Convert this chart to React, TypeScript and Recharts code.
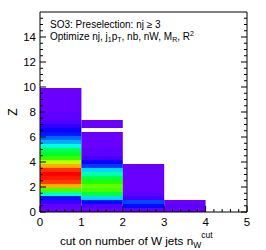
import React from 'react';
import { ComposedChart, XAxis, YAxis, ReferenceArea, Scatter } from 'recharts';

// 2D histogram: x = cut on number of W jets (bins of width 1), y = Z (bins of width 0.32)
const binWidth = 0.32;
const columnStarts = [0, 1, 2, 3];
// relative bin content (0 = lowest colour, 1 = highest), listed from the Z=0 bin upward; null = empty bin
const col0 = [0.02, 0.03, 0.06, 0.13, 0.4, 0.62, 0.85, 0.95, 0.98, 1.0, 0.96, 0.85, 0.72, 0.6, 0.52, 0.48,
  0.36, 0.26, 0.2, 0.13, 0.1, 0.07, 0.04, 0.03, 0.03, 0.02, 0.02, 0.02, 0.02, 0.02, 0.02];
const col1 = [0.02, 0.04, 0.12, 0.3, 0.5, 0.62, 0.64, 0.58, 0.5, 0.4, 0.3, 0.16, 0.1, 0.05, 0.03, 0.03,
  0.02, 0.02, 0.02, 0.02, null, 0.02, 0.02];
const col2 = [0.03, 0.12, 0.17, 0.05, 0.03, 0.02, 0.02, 0.02, 0.02, 0.02, 0.02, 0.02];
const col3 = [0.02, 0.03, 0.02];
const columns = [col0, col1, col2, col3];

const xMajorTicks = [0, 1, 2, 3, 4, 5];
const yMajorTicks = [0, 2, 4, 6, 8, 10, 12, 14];
const xTicks = Array.from({ length: 26 }, (_, i) => Math.round(i * 0.2 * 10) / 10);
const yTicks = Array.from({ length: 32 }, (_, i) => i * 0.5);

const FONT = "'Liberation Sans', Arial, Helvetica, sans-serif";

type Cell = { x1: number; x2: number; y1: number; y2: number; v: number };
const cells: Cell[] = [];
columns.forEach((vals, ci) => {
  vals.forEach((v, bi) => {
    if (v === null) return;
    cells.push({ x1: columnStarts[ci], x2: columnStarts[ci] + 1, y1: bi * binWidth, y2: (bi + 1) * binWidth, v });
  });
});

const colorOf = (v: number) => `hsl(${270 * (1 - v)}, 100%, 50%)`;

const isMajorX = (v: number) => xMajorTicks.some((t) => Math.abs(t - v) < 1e-6);
const isMajorY = (v: number) => yMajorTicks.some((t) => Math.abs(t - v) < 1e-6);

function makeTick(orient: 'bottom' | 'top' | 'left' | 'right', labels: boolean) {
  return (props: any) => {
    const { x, y, payload } = props;
    const v = payload.value;
    const major = orient === 'bottom' || orient === 'top' ? isMajorX(v) : isMajorY(v);
    const len = major ? 6 : 3;
    let line;
    let label = null;
    if (orient === 'bottom') {
      line = <line x1={x} y1={y} x2={x} y2={y - len} stroke="#000" strokeWidth={1} />;
      if (labels && major)
        label = (
          <text x={x} y={y + 14} textAnchor="middle" fontSize={11.5} fontFamily={FONT} fill="#000">
            {v}
          </text>
        );
    } else if (orient === 'top') {
      line = <line x1={x} y1={y} x2={x} y2={y + len} stroke="#000" strokeWidth={1} />;
    } else if (orient === 'left') {
      line = <line x1={x} y1={y} x2={x + len} y2={y} stroke="#000" strokeWidth={1} />;
      if (labels && major)
        label = (
          <text x={x - 4} y={y + 4} textAnchor="end" fontSize={11.5} fontFamily={FONT} fill="#000">
            {v}
          </text>
        );
    } else {
      line = <line x1={x} y1={y} x2={x - len} y2={y} stroke="#000" strokeWidth={1} />;
    }
    return (
      <g>
        {line}
        {label}
      </g>
    );
  };
}

export default function App() {
  return (
    <div style={{ position: 'absolute', left: 0, top: 0, width: 266, height: 250, background: '#fff' }}>
      <ComposedChart width={266} height={250} margin={{ top: 11, right: 18, bottom: 18, left: 0 }}>
        {cells.map((c, i) => (
          <ReferenceArea
            key={i}
            x1={c.x1}
            x2={c.x2}
            y1={c.y1}
            y2={c.y2}
            fill={colorOf(c.v)}
            fillOpacity={1}
            stroke="none"
            ifOverflow="visible"
          />
        ))}
        <Scatter data={[]} dataKey="y" isAnimationActive={false} />
        <XAxis
          type="number"
          dataKey="x"
          domain={[0, 5]}
          ticks={xTicks}
          interval={0}
          height={20}
          tickSize={0}
          tickMargin={0}
          tickLine={false}
          axisLine={{ stroke: '#000' }}
          tick={makeTick('bottom', true)}
          allowDataOverflow
        />
        <XAxis
          xAxisId="top"
          orientation="top"
          type="number"
          domain={[0, 5]}
          ticks={xTicks}
          interval={0}
          height={1}
          tickSize={0}
          tickMargin={0}
          tickLine={false}
          axisLine={{ stroke: '#000' }}
          tick={makeTick('top', false)}
          allowDataOverflow
        />
        <YAxis
          type="number"
          dataKey="y"
          domain={[0, 16]}
          ticks={yTicks}
          interval={0}
          width={40}
          tickSize={0}
          tickMargin={0}
          tickLine={false}
          axisLine={{ stroke: '#000' }}
          tick={makeTick('left', true)}
          allowDataOverflow
        />
        <YAxis
          yAxisId="right"
          orientation="right"
          type="number"
          domain={[0, 16]}
          ticks={yTicks}
          interval={0}
          width={1}
          tickSize={0}
          tickMargin={0}
          tickLine={false}
          axisLine={{ stroke: '#000' }}
          tick={makeTick('right', false)}
          allowDataOverflow
        />
      </ComposedChart>
      <svg
        width={266}
        height={250}
        style={{ position: 'absolute', left: 0, top: 0, pointerEvents: 'none' }}
        fontFamily={FONT}
      >
        <text x={50} y={27.5} fontSize={10} fill="#000">
          SO3: Preselection: nj ≥ 3
        </text>
        <text x={50} y={40} fontSize={10} fill="#000">
          Optimize nj, j
          <tspan fontSize={7} dy={2}>1</tspan>
          <tspan dy={-2}>p</tspan>
          <tspan fontSize={7} dy={2}>T</tspan>
          <tspan dy={-2}>, nb, nW, M</tspan>
          <tspan fontSize={7} dy={2}>R</tspan>
          <tspan dy={-2}>, R</tspan>
          <tspan fontSize={7} dy={-4}>2</tspan>
        </text>
        <text x={60} y={244.5} fontSize={11.7} fill="#000">
          cut on number of W jets n
          <tspan fontSize={8.5} dy={3}>W</tspan>
          <tspan fontSize={8.5} dy={-10}>cut</tspan>
        </text>
        <text
          x={16.5}
          y={112}
          fontSize={12}
          fill="#000"
          textAnchor="middle"
          transform="rotate(-90, 16.5, 112)"
        >
          Z
        </text>
      </svg>
    </div>
  );
}
